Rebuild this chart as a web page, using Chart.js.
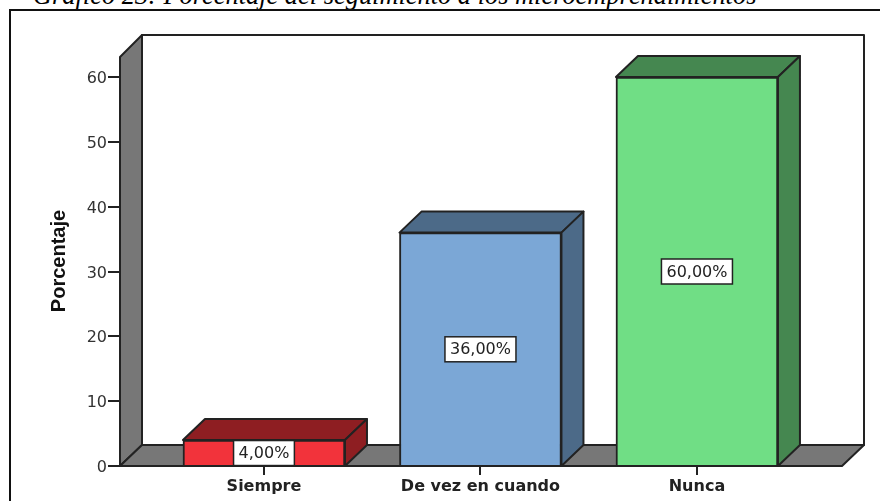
<!DOCTYPE html>
<html>
<head>
<meta charset="utf-8">
<script src="https://cdn.jsdelivr.net/npm/chart.js@4"></script>
<style>
  html, body { margin: 0; padding: 0; background: #fff; overflow: hidden; }
  #wrap { position: relative; width: 880px; height: 501px; overflow: hidden; }
  #caption { position: absolute; left: 33px; top: -20px; font: italic 26.4px "Liberation Serif", serif; white-space: nowrap; color: #000; }
  #frame { position: absolute; left: 9px; top: 9px; width: 900px; height: 520px; border: 2px solid #111; }
  canvas { position: absolute; left: 0; top: 0; }
</style>
</head>
<body>
<div id="wrap">
  <div id="caption">Gráfico 23: Porcentaje del seguimiento a los microemprendimientos</div>
  <div id="frame"></div>
  <canvas id="chart" width="880" height="501"></canvas>
</div>
<script>
'use strict';

const categories = ['Siempre', 'De vez en cuando', 'Nunca'];
const porcentajes = [4, 36, 60];
const etiquetas = ['4,00%', '36,00%', '60,00%'];
const frontColors = ['#f2333b', '#7ba7d6', '#70de85'];
const sideColors = ['#8e1e22', '#4c6a88', '#458750'];
const yTicks = [0, 10, 20, 30, 40, 50, 60];

const DX = 22, DY = 21;       // profundidad 3D
const WALL_TOP = 35;
const LINE = '#222';

function poly(ctx, pts, fill) {
    ctx.beginPath();
    pts.forEach((p, i) => i ? ctx.lineTo(p[0], p[1]) : ctx.moveTo(p[0], p[1]));
    ctx.closePath();
    if (fill) { ctx.fillStyle = fill; ctx.fill(); }
    ctx.strokeStyle = LINE;
    ctx.lineWidth = 2;
    ctx.lineJoin = 'round';
    ctx.stroke();
}

// paredes y caras 3D, por debajo de las barras
const box3d = {
    id: 'box3d',
    beforeDatasetsDraw(chart) {
        const { ctx, chartArea: a } = chart;
        const y0 = a.bottom;
        ctx.save();
        // fondo
        poly(ctx, [[a.left + DX, WALL_TOP], [a.right + DX, WALL_TOP], [a.right + DX, y0 - DY], [a.left + DX, y0 - DY]], '#fff');
        // pared izquierda
        poly(ctx, [[a.left, a.top - 20], [a.left + DX, WALL_TOP], [a.left + DX, y0 - DY], [a.left, y0]], '#777');
        // piso
        poly(ctx, [[a.left, y0], [a.left + DX, y0 - DY], [a.right + DX, y0 - DY], [a.right, y0]], '#777');
        // caras superior y lateral de cada barra
        chart.getDatasetMeta(0).data.forEach((bar, i) => {
            const l = bar.x - bar.width / 2, r = bar.x + bar.width / 2, t = bar.y;
            poly(ctx, [[l, t], [l + DX, t - DY], [r + DX, t - DY], [r, t]], sideColors[i]);
            poly(ctx, [[r, t], [r + DX, t - DY], [r + DX, y0 - DY], [r, y0]], sideColors[i]);
        });
        ctx.restore();
    },
    afterDatasetsDraw(chart) {
        const { ctx, scales } = chart;
        ctx.save();
        ctx.font = '16px "DejaVu Sans", sans-serif';
        ctx.textAlign = 'center';
        ctx.textBaseline = 'middle';
        chart.getDatasetMeta(0).data.forEach((bar, i) => {
            const cy = scales.y.getPixelForValue(porcentajes[i] / 2);
            const w = ctx.measureText(etiquetas[i]).width + 10, h = 25;
            ctx.fillStyle = '#fff';
            ctx.fillRect(bar.x - w / 2, cy - h / 2, w, h);
            ctx.strokeStyle = LINE;
            ctx.lineWidth = 1.5;
            ctx.strokeRect(bar.x - w / 2, cy - h / 2, w, h);
            ctx.fillStyle = '#222';
            ctx.fillText(etiquetas[i], bar.x, cy + 1);
        });
        // titulo del eje Y
        ctx.translate(59, 261);
        ctx.rotate(-Math.PI / 2);
        ctx.font = 'bold 20px "Liberation Sans", sans-serif';
        ctx.fillStyle = '#111';
        ctx.fillText('Porcentaje', 0, 0);
        ctx.restore();
    }
};

new Chart(document.getElementById('chart'), {
    type: 'bar',
    data: {
        datasets: [{
            data: porcentajes.map((v, i) => ({ x: i, y: v })),
            backgroundColor: frontColors,
            borderColor: LINE,
            borderWidth: 2,
            barThickness: 162
        }]
    },
    plugins: [box3d],
    options: {
        responsive: false,
        animation: false,
        layout: { padding: { left: 0, right: 38, top: 77, bottom: 0 } },
        plugins: { legend: { display: false }, tooltip: { enabled: false } },
        scales: {
            x: {
                type: 'linear',
                offset: false,
                min: -0.665,
                max: 2.67,
                afterBuildTicks: s => { s.ticks = categories.map((_, i) => ({ value: i })); },
                afterFit: s => { s.height = 35; },
                grid: { offset: false, drawOnChartArea: false, drawTicks: true, tickLength: 9, color: LINE, lineWidth: 2 },
                border: { display: false },
                ticks: {
                    autoSkip: false,
                    maxRotation: 0,
                    padding: 2,
                    color: '#222',
                    font: { family: '"DejaVu Sans", sans-serif', size: 16, weight: 'bold' },
                    callback: v => categories[v]
                }
            },
            y: {
                min: 0,
                max: 60,
                afterBuildTicks: s => { s.ticks = yTicks.map(v => ({ value: v })); },
                afterFit: s => { s.width = 120; },
                grid: { drawOnChartArea: false, drawTicks: true, tickLength: 12, color: LINE, lineWidth: 2 },
                border: { display: false },
                ticks: {
                    padding: 1,
                    labelOffset: 2,
                    color: '#333',
                    font: { family: '"DejaVu Sans", sans-serif', size: 16 }
                }
            }
        }
    }
});
</script>
</body>
</html>
